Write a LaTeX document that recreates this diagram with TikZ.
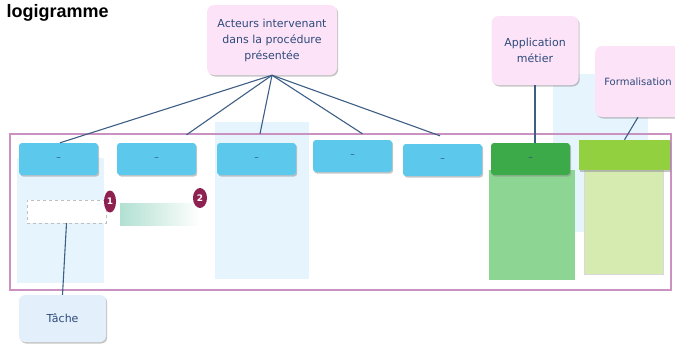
\documentclass[tikz,border=0pt]{standalone}
\usepackage{fontspec}
\setmainfont{DejaVu Sans}
\newfontfamily\titlefont{Liberation Sans}
\usetikzlibrary{shadows,shapes.geometric}

\definecolor{hdrblue}{HTML}{5BC8EC}
\definecolor{hdrgreen}{HTML}{3DAA4A}
\definecolor{hdrlime}{HTML}{92D040}
\definecolor{colgreen}{HTML}{8DD592}
\definecolor{collime}{HTML}{D5EBB0}
\definecolor{colblue}{HTML}{E6F5FD}
\definecolor{notepink}{HTML}{FDE3F8}
\definecolor{framepink}{HTML}{C992C0}
\definecolor{linkblue}{HTML}{3E5E85}
\definecolor{txtblue}{HTML}{2E4A7A}
\definecolor{badgered}{HTML}{8E2150}
\definecolor{tachefill}{HTML}{E3F0FB}
\definecolor{gradteal}{HTML}{B2E0D2}

\begin{document}
\begin{tikzpicture}[x=1pt,y=-1pt,
	every node/.style={text=txtblue, font=\fontsize{11}{16}\selectfont},
	shad/.style={drop shadow={shadow xshift=1.2pt, shadow yshift=-1.5pt, fill=black!45}},
	hdr/.style={shad, rounded corners=3pt, minimum width=79pt, minimum height=32pt, inner sep=0pt, font=\fontsize{9}{10}\selectfont},
	note/.style={shad, fill=notepink, rounded corners=7pt, align=center, inner sep=0pt},
	badge/.style={ellipse, fill=badgered, text=white, inner sep=0pt, font=\bfseries\fontsize{9}{10}\selectfont},
	link/.style={draw=linkblue, line width=1.1pt}]
	\useasboundingbox (0,0) rectangle (675,343);

	% fonds des colonnes
	\fill[colblue] (17,158) rectangle (104,283);
	\fill[colblue] (215,122) rectangle (309,279);
	\fill[colblue] (553,74) rectangle (648,232);
	\fill[colgreen] (489,170) rectangle (575,280);
	\filldraw[fill=collime, draw=black!15] (584,170) rectangle (663,274);

	\draw[framepink, line width=1.2pt] (10,134) rectangle (671,290);

	\node[anchor=west, text=black, font=\titlefont\bfseries\fontsize{18}{20}\selectfont] (titre) at (3,13) {logigramme};

	% acteurs
	\node[hdr, fill=hdrblue] (h1) at (58.5,159) {--};
	\node[hdr, fill=hdrblue] (h2) at (156.5,159) {--};
	\node[hdr, fill=hdrblue] (h3) at (256.5,159) {--};
	\node[hdr, fill=hdrblue] (h4) at (352.5,156) {--};
	\node[hdr, fill=hdrblue] (h5) at (442.5,160) {--};
	\node[hdr, fill=hdrgreen] (h6) at (530.5,159) {--};
	\node[hdr, fill=hdrlime, rounded corners=0pt, minimum width=91pt, minimum height=30pt] (h7) at (624.5,155) {};

	% notes
	\node[note, minimum width=130pt, minimum height=70pt] (act) at (272,40) {Acteurs intervenant\\dans la procédure\\présentée};
	\node[note, minimum width=87pt, minimum height=69pt] (app) at (535,50.5) {Application\\métier};
	\node[note, minimum width=86pt, minimum height=71pt, font=\fontsize{10}{14}\selectfont] (fm) at (638,81.5) {Formalisation};
	\node[shad, fill=tachefill, rounded corners=6pt, minimum width=87pt, minimum height=47pt] (tache) at (62.5,318.5) {Tâche};

	% taches
	\node[draw=black!25, dashed, fill=white, minimum width=79pt, minimum height=23pt, inner sep=0pt] (t1) at (66.5,211.5) {};
	\node[left color=gradteal, right color=white, minimum width=80pt, minimum height=22pt, inner sep=0pt] (t2) at (160,214) {};
	\node[badge, minimum width=12pt, minimum height=22pt] (n1) at (110,201.5) {1};
	\node[badge, minimum width=14pt, minimum height=20pt] (n2) at (200,198) {2};

	% liens
	\draw[link] (act.south) -- ([xshift=1.5pt]h1.north);
	\draw[link] (act.south) -- ([xshift=30pt,yshift=8pt]h2.north);
	\draw[link] (act.south) -- ([xshift=3.5pt,yshift=9pt]h3.north);
	\draw[link] (act.south) -- ([xshift=10pt,yshift=6pt]h4.north);
	\draw[link] (act.south) -- ([xshift=-2.5pt,yshift=8pt]h5.north);
	\draw[link] (app.south) -- (app.south |- h6.north);
	\draw[link] (fm.south) -- (h7.north);
	\draw[link] (tache.north) -- (t1.south);
\end{tikzpicture}
\end{document}
